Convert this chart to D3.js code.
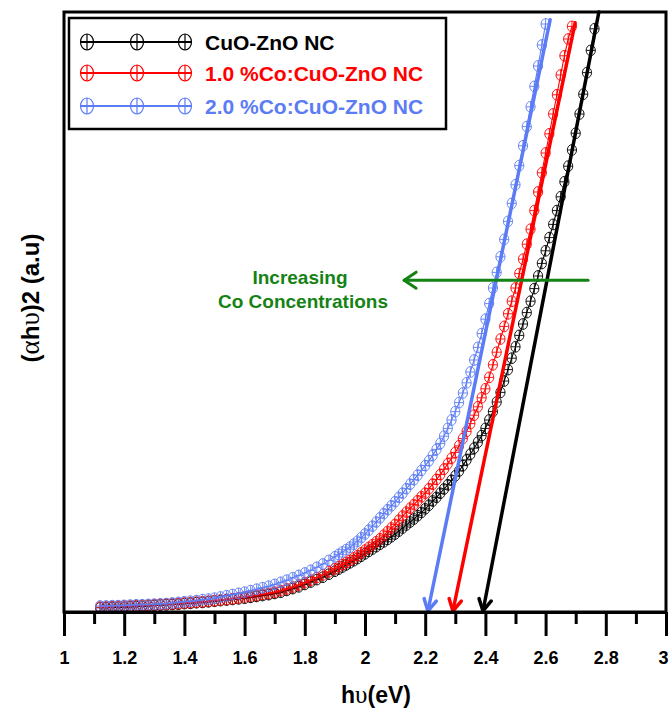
<!DOCTYPE html>
<html>
<head>
<meta charset="utf-8">
<script src="https://cdn.jsdelivr.net/npm/d3@7"></script>
<style>
  body { margin: 0; background: #fff; }
  svg { display: block; }
</style>
</head>
<body>
<svg id="chart" width="669" height="712"></svg>
<script>
// Photon energy grid (eV) shared by the three absorption curves
const photonEnergy = [
  1.12,1.14,1.16,1.18,1.20,1.22,1.24,1.26,1.28,1.30,
  1.32,1.34,1.36,1.38,1.40,1.42,1.44,1.46,1.48,1.50,
  1.52,1.54,1.56,1.58,1.60,1.62,1.64,1.66,1.68,1.70,
  1.72,1.74,1.76,1.78,1.80,1.82,1.84,1.86,1.88,1.90,
  1.9125,1.925,1.9375,1.95,1.9625,1.975,1.9875,2.00,
  2.0125,2.025,2.0375,2.05,2.0625,2.075,2.0875,2.10,
  2.1125,2.125,2.1375,2.15,2.1625,2.175,2.1875,2.20,
  2.2125,2.225,2.2375,2.25,2.2625,2.275,2.2875,2.30,
  2.3125,2.325,2.3375,2.35,2.3625,2.375,2.3875,2.40,
  2.4125,2.425,2.4375,2.45,2.4625,2.475,2.4875,2.50,
  2.5125,2.525,2.5375,2.55,2.5625,2.575,2.5875,2.60,
  2.6125,2.625,2.6375,2.65,2.6625,2.675,2.6875,2.70,
  2.7125,2.725,2.7375,2.75,2.7625
];

// (αhυ)² in arbitrary units, one value per energy
const cuoZno = [
  0.07,0.07,0.075,0.078,0.08,0.085,0.09,0.095,0.10,0.11,
  0.115,0.12,0.125,0.13,0.14,0.145,0.155,0.16,0.17,0.18,
  0.19,0.20,0.21,0.22,0.23,0.245,0.26,0.275,0.29,0.31,
  0.33,0.36,0.39,0.42,0.46,0.50,0.54,0.58,0.63,0.68,
  0.715,0.75,0.785,0.82,0.855,0.89,0.93,0.97,
  1.01,1.05,1.09,1.13,1.17,1.21,1.255,1.30,
  1.35,1.40,1.45,1.50,1.55,1.605,1.66,1.72,
  1.78,1.85,1.91,1.98,2.05,2.12,2.195,2.27,
  2.35,2.44,2.535,2.63,2.73,2.83,2.94,3.06,
  3.20,3.34,3.50,3.66,3.85,4.04,4.23,4.42,
  4.61,4.80,4.99,5.18,5.39,5.60,5.81,6.02,
  6.24,6.46,6.69,6.92,7.17,7.43,7.70,7.98,
  8.30,8.63,8.99,9.36,9.72
];

const co10 = [
  0.08,0.085,0.09,0.095,0.10,0.10,0.105,0.11,0.115,0.12,
  0.125,0.13,0.135,0.14,0.15,0.155,0.165,0.17,0.18,0.19,
  0.20,0.21,0.22,0.235,0.25,0.265,0.28,0.295,0.31,0.33,
  0.355,0.385,0.415,0.45,0.49,0.53,0.575,0.62,0.67,0.72,
  0.755,0.79,0.825,0.86,0.90,0.94,0.985,1.03,
  1.075,1.12,1.17,1.22,1.28,1.34,1.40,1.46,
  1.53,1.60,1.665,1.73,1.79,1.855,1.92,1.98,
  2.055,2.13,2.21,2.29,2.38,2.47,2.565,2.66,
  2.77,2.89,3.01,3.14,3.28,3.42,3.57,3.72,
  3.91,4.12,4.33,4.55,4.76,4.97,5.18,5.40,
  5.64,5.88,6.13,6.38,6.69,7.00,7.32,7.65,
  7.97,8.30,8.62,8.95,9.27,9.55,9.76
];

const co20 = [
  0.10,0.10,0.105,0.105,0.11,0.115,0.12,0.12,0.125,0.13,
  0.135,0.14,0.15,0.16,0.17,0.18,0.19,0.205,0.215,0.23,
  0.25,0.27,0.29,0.31,0.33,0.355,0.38,0.405,0.43,0.46,
  0.495,0.53,0.57,0.61,0.65,0.695,0.745,0.80,0.86,0.92,
  0.96,1.00,1.04,1.08,1.13,1.18,1.24,1.30,
  1.365,1.43,1.50,1.57,1.64,1.705,1.77,1.84,
  1.91,1.98,2.055,2.13,2.205,2.28,2.36,2.44,
  2.52,2.61,2.71,2.81,2.93,3.06,3.20,3.34,
  3.49,3.65,3.82,4.00,4.20,4.41,4.64,4.88,
  5.14,5.40,5.66,5.92,6.21,6.51,6.81,7.12,
  7.44,7.77,8.09,8.42,8.76,9.10,9.45,9.80
];

const seriesNames = ["CuO-ZnO NC", "1.0 %Co:CuO-ZnO NC", "2.0 %Co:CuO-ZnO NC"];
const seriesValues = [cuoZno, co10, co20];
const seriesColors = ["#000000", "#ff0000", "#5b7cf4"];

// Linear extrapolations to the energy axis: [E at top, value at top, band gap E]
const bandGapFits = [
  [2.777, 10.0, 2.392],
  [2.698, 9.82, 2.292],
  [2.615, 9.87, 2.209]
];

const majorTicks = [1, 1.2, 1.4, 1.6, 1.8, 2, 2.2, 2.4, 2.6, 2.8, 3];
const tickLabels = ["1", "1.2", "1.4", "1.6", "1.8", "2", "2.2", "2.4", "2.6", "2.8", "3"];
const minorTicks = [1.1, 1.3, 1.5, 1.7, 1.9, 2.1, 2.3, 2.5, 2.7, 2.9];

// Annotation arrow (energy from, energy to, value) and its caption lines
const trendArrow = [2.741, 2.130, 5.53];
const trendText = ["Increasing", "Co Concentrations"];
const trendTextPos = [[1.784, 5.47], [1.794, 5.07]];

const FONT = "'Liberation Sans', Arial, sans-serif";
const SYM = "'Liberation Serif', 'Times New Roman', serif";
const GREEN = "#148214";

const svg = d3.select("#chart");
const x = d3.scaleLinear().domain([1, 3]).range([64, 666]);
const y = d3.scaleLinear().domain([0, 10]).range([612, 12]);

// Curves: connecting line plus crossed-ellipse markers
const line = d3.line().x(d => x(d[0])).y(d => y(d[1]));
const rx = 4.6, ry = 5.4;

seriesValues.forEach((vals, s) => {
  const pts = vals.map((v, i) => [photonEnergy[i], v]);
  const g = svg.append("g").attr("stroke", seriesColors[s]).attr("fill", "none");
  g.append("path").attr("d", line(pts)).attr("stroke-width", 1.1);
  const m = g.selectAll("g.m").data(pts).join("g")
    .attr("class", "m")
    .attr("transform", d => `translate(${x(d[0])},${y(d[1])})`)
    .attr("stroke-width", 0.9);
  m.append("ellipse").attr("rx", rx).attr("ry", ry);
  m.append("line").attr("x1", -rx).attr("x2", rx);
  m.append("line").attr("y1", -ry).attr("y2", ry);
});

// Band-gap extrapolation lines with open arrowheads on the energy axis
bandGapFits.forEach((f, s) => {
  const x0 = x(f[0]), y0 = y(f[1]), x1 = x(f[2]), y1 = y(0);
  const g = svg.append("g").attr("stroke", seriesColors[s]).attr("fill", "none")
    .attr("stroke-width", 3.5).attr("stroke-linecap", "round").attr("stroke-linejoin", "round");
  g.append("line").attr("x1", x0).attr("y1", y0).attr("x2", x1).attr("y2", y1 - 1);
  const ang = Math.atan2(y1 - y0, x1 - x0);
  const len = 13, spread = 0.5;
  const tipY = y1 - 1;
  const a1 = [x1 - len * Math.cos(ang - spread), tipY - len * Math.sin(ang - spread)];
  const a2 = [x1 - len * Math.cos(ang + spread), tipY - len * Math.sin(ang + spread)];
  g.append("path").attr("d", `M${a1[0]},${a1[1]}L${x1},${tipY}L${a2[0]},${a2[1]}`);
});

// Frame
svg.append("rect")
  .attr("x", x(1)).attr("y", y(10))
  .attr("width", x(3) - x(1)).attr("height", y(0) - y(10))
  .attr("fill", "none").attr("stroke", "#000").attr("stroke-width", 3);

// Bottom axis: major ticks with labels, minor ticks without
const axisMajor = svg.append("g").attr("transform", `translate(0,${y(0)})`)
  .call(d3.axisBottom(x).tickValues(majorTicks).tickSize(24).tickSizeOuter(0)
    .tickPadding(15).tickFormat((d, i) => tickLabels[i]));
axisMajor.select(".domain").attr("stroke-width", 3);
axisMajor.selectAll(".tick line").attr("stroke-width", 3);
axisMajor.selectAll(".tick text")
  .attr("font-family", FONT).attr("font-weight", "bold").attr("font-size", 18).attr("fill", "#000")
  .attr("dx", (d, i) => i === majorTicks.length - 1 ? -3 : 0);

const axisMinor = svg.append("g").attr("transform", `translate(0,${y(0)})`)
  .call(d3.axisBottom(x).tickValues(minorTicks).tickSize(12).tickSizeOuter(0).tickFormat(""));
axisMinor.select(".domain").remove();
axisMinor.selectAll(".tick line").attr("stroke-width", 3);

// Axis titles
const xt = svg.append("text").attr("x", 376).attr("y", 703)
  .attr("text-anchor", "middle").attr("font-family", FONT)
  .attr("font-weight", "bold").attr("font-size", 23);
xt.append("tspan").text("h");
xt.append("tspan").attr("font-family", SYM).attr("font-weight", "normal").attr("font-size", 25).text("υ");
xt.append("tspan").text("(eV)");

const yt = svg.append("text").attr("transform", "translate(39,298) rotate(-90)")
  .attr("text-anchor", "middle").attr("font-family", FONT)
  .attr("font-weight", "bold").attr("font-size", 24);
yt.append("tspan").text("(");
yt.append("tspan").attr("font-family", SYM).attr("font-weight", "normal").attr("font-size", 27).text("α");
yt.append("tspan").text("h");
yt.append("tspan").attr("font-family", SYM).attr("font-weight", "normal").attr("font-size", 27).text("υ");
yt.append("tspan").text(")2 (a.u)");

// Trend annotation
const ag = svg.append("g").attr("stroke", GREEN).attr("fill", "none")
  .attr("stroke-width", 3).attr("stroke-linecap", "round").attr("stroke-linejoin", "round");
const ax0 = x(trendArrow[0]), ax1 = x(trendArrow[1]), ay = y(trendArrow[2]);
ag.append("line").attr("x1", ax0).attr("y1", ay).attr("x2", ax1).attr("y2", ay);
ag.append("path").attr("d", `M${ax1 + 12},${ay - 8}L${ax1},${ay}L${ax1 + 12},${ay + 8}`);

trendText.forEach((t, i) => {
  svg.append("text").attr("x", x(trendTextPos[i][0])).attr("y", y(trendTextPos[i][1]))
    .attr("text-anchor", "middle").attr("font-family", FONT).attr("font-weight", "bold")
    .attr("font-size", 19).attr("fill", GREEN).text(t);
});

// Legend
const lg = svg.append("g");
lg.append("rect").attr("x", 69).attr("y", 18).attr("width", 377).attr("height", 111)
  .attr("fill", "#fff").attr("stroke", "#000").attr("stroke-width", 2.5);
const rowY = [42, 73, 106];
const lrx = 6.5, lry = 8;
seriesNames.forEach((name, s) => {
  const r = lg.append("g").attr("transform", `translate(0,${rowY[s]})`);
  r.append("line").attr("x1", 80).attr("x2", 192).attr("stroke", seriesColors[s]).attr("stroke-width", 2);
  [87, 137, 185].forEach(cx => {
    const m = r.append("g").attr("transform", `translate(${cx},0)`)
      .attr("stroke", seriesColors[s]).attr("fill", "none").attr("stroke-width", 1.2);
    m.append("ellipse").attr("rx", lrx).attr("ry", lry);
    m.append("line").attr("x1", -lrx).attr("x2", lrx);
    m.append("line").attr("y1", -lry).attr("y2", lry);
  });
  r.append("text").attr("x", 205).attr("y", 7.5)
    .attr("font-family", FONT).attr("font-weight", "bold").attr("font-size", 21)
    .attr("fill", seriesColors[s]).text(name);
});
</script>
</body>
</html>
